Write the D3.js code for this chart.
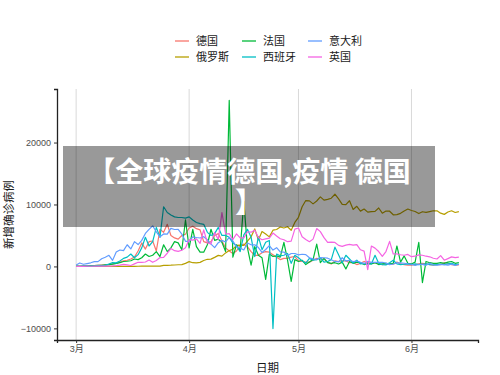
<!DOCTYPE html>
<html>
<head>
<meta charset="utf-8">
<script src="https://cdn.jsdelivr.net/npm/d3@7"></script>
<style>
  body { margin: 0; background: #fff; }
  svg { display: block; font-family: "Noto Sans CJK SC", "Noto Sans", sans-serif; }
</style>
</head>
<body>
<div id="chart"></div>
<script>
// daily new cases, 2020-03-01 .. 2020-06-14
const countries = ["德国", "俄罗斯", "法国", "西班牙", "意大利", "英国"];
const colors = ["#F8766D", "#B79F00", "#00BA38", "#00BFC4", "#619CFF", "#F564E3"];

const germany = [20, 30, 50, 70, 100, 130, 160, 200, 250, 300,
  400, 500, 700, 900, 1000, 1200, 1500, 2500, 3800, 2800,
  4000, 4100, 2500, 6000, 5500, 6800, 5000, 4600, 4400, 5000, 5200,
  6200, 6500, 6100, 5900, 4000, 3800, 4000, 5000, 5300, 4100,
  3000, 2500, 2100, 2500, 3300, 3600, 3200, 2400, 1800, 1800,
  2200, 2400, 2300, 1900, 1500, 1100, 1300, 1300, 1500, 1600,
  900, 800, 700, 700, 1000, 1300, 1200, 1200, 700, 400,
  900, 800, 900, 900, 600, 600, 300, 500, 800, 600,
  500, 600, 400, 300, 400, 360, 350, 700, 400, 300, 200,
  200, 300, 400, 500, 400, 300, 200, 300, 300, 600, 500, 300, 200, 250];

const russia = [0, 0, 1, 0, 0, 0, 1, 3, 0, 3,
  3, 8, 6, 11, 4, 30, 21, 33, 52, 54,
  53, 61, 71, 57, 163, 182, 196, 228, 270, 302, 500,
  771, 601, 582, 658, 954, 1154, 1175, 1459, 1786, 1667,
  2186, 2558, 2774, 3388, 3448, 3388, 4070, 4785, 6060, 4268,
  5642, 5236, 4774, 5849, 5966, 6361, 6198, 6411, 5841, 7099,
  7933, 9623, 10633, 10581, 10102, 10559, 11231, 10699, 10817, 11012,
  11656, 10899, 10028, 9974, 10598, 9200, 9709, 8926, 9263, 8764,
  8849, 8894, 9434, 8599, 8946, 8915, 8338, 8371, 8572, 8952, 9268,
  9035, 8863, 8536, 8831, 8726, 8855, 8984, 8985, 8595, 8404, 8779, 8987, 8706, 8835];

const france = [40, 30, 60, 80, 90, 140, 180, 190, 250, 290,
  370, 500, 600, 800, 840, 920, 1200, 1100, 1400, 2000,
  1600, 1800, 2400, 1600, 3500, 2400, 3000, 4000, 3800, 2700, 7500,
  3000, 6000, 3200, 2300, 2300, 3500, 6000, 4200, 4400, 3900,
  2400, 26800, 1500, 3500, 2600, 10500, 3000, 200, 3200, 1800,
  1400, -2100, 2000, 1600, 1700, 1500, 3900, 1000, -2400, 1100,
  800, 1000, 300, 700, 1100, 3600, 600, 1300, 600, 500,
  600, 400, 700, -400, 800, 500, 700, 600, 300, 500,
  400, 600, 300, 400, 500, 400, 500, 3300, 700, 1700, 500,
  400, 700, 3900, -2600, 800, 600, 500, 500, 600, 500, 700, 800, 500, 600];

const spain = [10, 30, 40, 50, 60, 40, 140, 100, 170, 400,
  620, 580, 870, 1300, 1500, 2000, 1400, 1900, 3000, 4700,
  3300, 4000, 6300, 4700, 9630, 8700, 8300, 8000, 7900, 7900, 7800,
  8000, 7500, 7100, 6900, 6800, 5500, 5000, 5300, 6300, 5000,
  5000, 4700, 3800, 3300, 2400, 5100, 6000, 4700, 1600, 4800,
  2700, 3900, 4200, -10034, 2000, 1700, 1800, 2100, 500, 1800,
  1400, 900, 550, 1300, 1000, 1100, 1400, 700, 800, 1100,
  3112, 1900, 600, 1800, 1200, 540, 1000, 400, 500, 370,
  400, 1800, 500, 300, 250, 600, 1000, 400, 300, 350, 400,
  300, 400, 300, 350, 400, 300, 250, 300, 350, 300, 400, 500, 300, 350];

const italy = [240, 561, 347, 466, 587, 769, 778, 1247, 1492, 1797,
  977, 2313, 2651, 2547, 3497, 2823, 4000, 3526, 4207, 5322,
  5986, 6557, 5560, 4789, 5249, 5210, 6153, 5959, 5974, 5217, 4050,
  4053, 4782, 4668, 4585, 4805, 4316, 3599, 3039, 3836, 4204,
  3951, 4694, 4092, 3153, 2972, 2667, 3786, 3493, 3491, 3047,
  2256, 2729, 3370, 2646, 3021, 2357, 2324, 1739, 2091, 2086,
  1872, 1965, 1900, 1389, 1221, 1075, 1444, 1401, 1327, 1083,
  802, 744, 1402, 888, 992, 789, 875, 675, 451, 813,
  665, 642, 652, 669, 531, 300, 397, 584, 593, 516, 416,
  355, 178, 318, 321, 177, 518, 270, 197, 280, 283, 202, 379, 163, 346];

const uk = [13, 4, 11, 34, 29, 46, 46, 65, 50, 52,
  83, 138, 208, 342, 251, 152, 407, 676, 643, 714,
  1035, 665, 967, 1427, 1452, 2129, 2885, 2546, 2433, 2619, 3009,
  4324, 4244, 4450, 3735, 5903, 3802, 3634, 5491, 4344, 8681,
  5233, 5288, 4342, 5252, 4603, 4617, 5599, 5525, 5850, 4676,
  4301, 4451, 4583, 5386, 4913, 4463, 4309, 3996, 4076, 6032,
  6201, 4806, 4339, 3985, 4406, 6111, 5614, 4649, 3896, 3923,
  3877, 3403, 3242, 3446, 3560, 3450, 3534, 2684, 2472, -525,
  3287, 2959, 2405, 1625, 2400, 4043, 2004, 2013, 1887, 1805, 1936,
  1570, 1653, 1871, 1805, 1650, 1557, 1326, 1205, 1741, 1003, 1266, 1541, 1425, 1514];

const seriesValues = [germany, russia, france, spain, italy, uk];
const dates = d3.timeDay.range(new Date(2020, 2, 1), new Date(2020, 5, 15));
const monthTicks = [new Date(2020, 2, 1), new Date(2020, 3, 1), new Date(2020, 4, 1), new Date(2020, 5, 1)];
const yTicks = [-10000, 0, 10000, 20000];
const bannerLines = ["【全球疫情德国,疫情 德国", "】"];

const width = 500, height = 375;
const margin = { left: 57, right: 22, top: 89, bottom: 35 };

const svg = d3.select("#chart").append("svg")
  .attr("width", width)
  .attr("height", height);

// ggplot-style 5% expansion
const tExt = d3.extent(dates);
const tPad = (tExt[1] - tExt[0]) * 0.05;
const x = d3.scaleTime()
  .domain([new Date(+tExt[0] - tPad), new Date(+tExt[1] + tPad)])
  .range([margin.left, width - margin.right]);

const allVals = seriesValues.flat();
const yMin = d3.min(allVals), yMax = d3.max(allVals);
const yPad = (yMax - yMin) * 0.05;
const y = d3.scaleLinear()
  .domain([yMin - yPad, yMax + yPad])
  .range([height - margin.bottom, margin.top]);

// vertical grid
svg.append("g")
  .selectAll("line")
  .data(monthTicks)
  .join("line")
  .attr("x1", d => x(d)).attr("x2", d => x(d))
  .attr("y1", margin.top).attr("y2", height - margin.bottom)
  .attr("stroke", "#d9d9d9")
  .attr("stroke-width", 1);

// series
const line = d3.line()
  .x((d, i) => x(dates[i]))
  .y(d => y(d));

svg.append("g")
  .selectAll("path")
  .data(seriesValues)
  .join("path")
  .attr("d", line)
  .attr("fill", "none")
  .attr("stroke", (d, i) => colors[i])
  .attr("stroke-width", 1.2)
  .attr("stroke-linejoin", "round");

// axes
const xAxis = svg.append("g")
  .attr("transform", `translate(0,${height - margin.bottom})`)
  .call(d3.axisBottom(x).tickValues(monthTicks).tickSize(3).tickPadding(3)
    .tickFormat(d => (d.getMonth() + 1) + "月"));

const yAxis = svg.append("g")
  .attr("transform", `translate(${margin.left},0)`)
  .call(d3.axisLeft(y).tickValues(yTicks).tickSize(3).tickPadding(3)
    .tickFormat(d3.format("d")));

[xAxis, yAxis].forEach(g => {
  g.select(".domain").attr("stroke", "#222").attr("stroke-width", 1.3);
  g.selectAll(".tick line").attr("stroke", "#333").attr("stroke-width", 1);
  g.selectAll(".tick text")
    .attr("fill", "#4D4D4D")
    .style("font-size", "9px")
    .style("font-family", "'Liberation Sans', 'Noto Sans CJK SC', sans-serif");
});

svg.append("text")
  .attr("x", (margin.left + width - margin.right) / 2)
  .attr("y", 372)
  .attr("text-anchor", "middle")
  .style("font-size", "11.5px")
  .attr("fill", "#1a1a1a")
  .text("日期");

svg.append("text")
  .attr("transform", `translate(13,${(margin.top + height - margin.bottom) / 2}) rotate(-90)`)
  .attr("text-anchor", "middle")
  .style("font-size", "11.5px")
  .attr("fill", "#1a1a1a")
  .text("新增确诊病例");

// legend, 2 rows filled by column
const legendCols = [175, 242, 308];
const legendRows = [41, 57];
const legend = svg.append("g")
  .selectAll("g")
  .data(countries)
  .join("g")
  .attr("transform", (d, i) => `translate(${legendCols[Math.floor(i / 2)]},${legendRows[i % 2]})`);

legend.append("line")
  .attr("x1", 0).attr("x2", 14)
  .attr("stroke", (d, i) => colors[i])
  .attr("stroke-width", 1.3);

legend.append("text")
  .attr("x", 21)
  .attr("dy", "0.36em")
  .style("font-size", "11px")
  .attr("fill", "#1a1a1a")
  .text(d => d);

// overlay banner
svg.append("rect")
  .attr("x", 63).attr("y", 146)
  .attr("width", 372).attr("height", 81)
  .attr("fill", "rgba(0,0,0,0.4)");

svg.append("g")
  .selectAll("text")
  .data(bannerLines)
  .join("text")
  .attr("x", 249)
  .attr("y", (d, i) => 182 + i * 31)
  .attr("text-anchor", "middle")
  .attr("fill", "#fff")
  .style("font-size", "28px")
  .style("font-weight", "bold")
  .text(d => d);
</script>
</body>
</html>
